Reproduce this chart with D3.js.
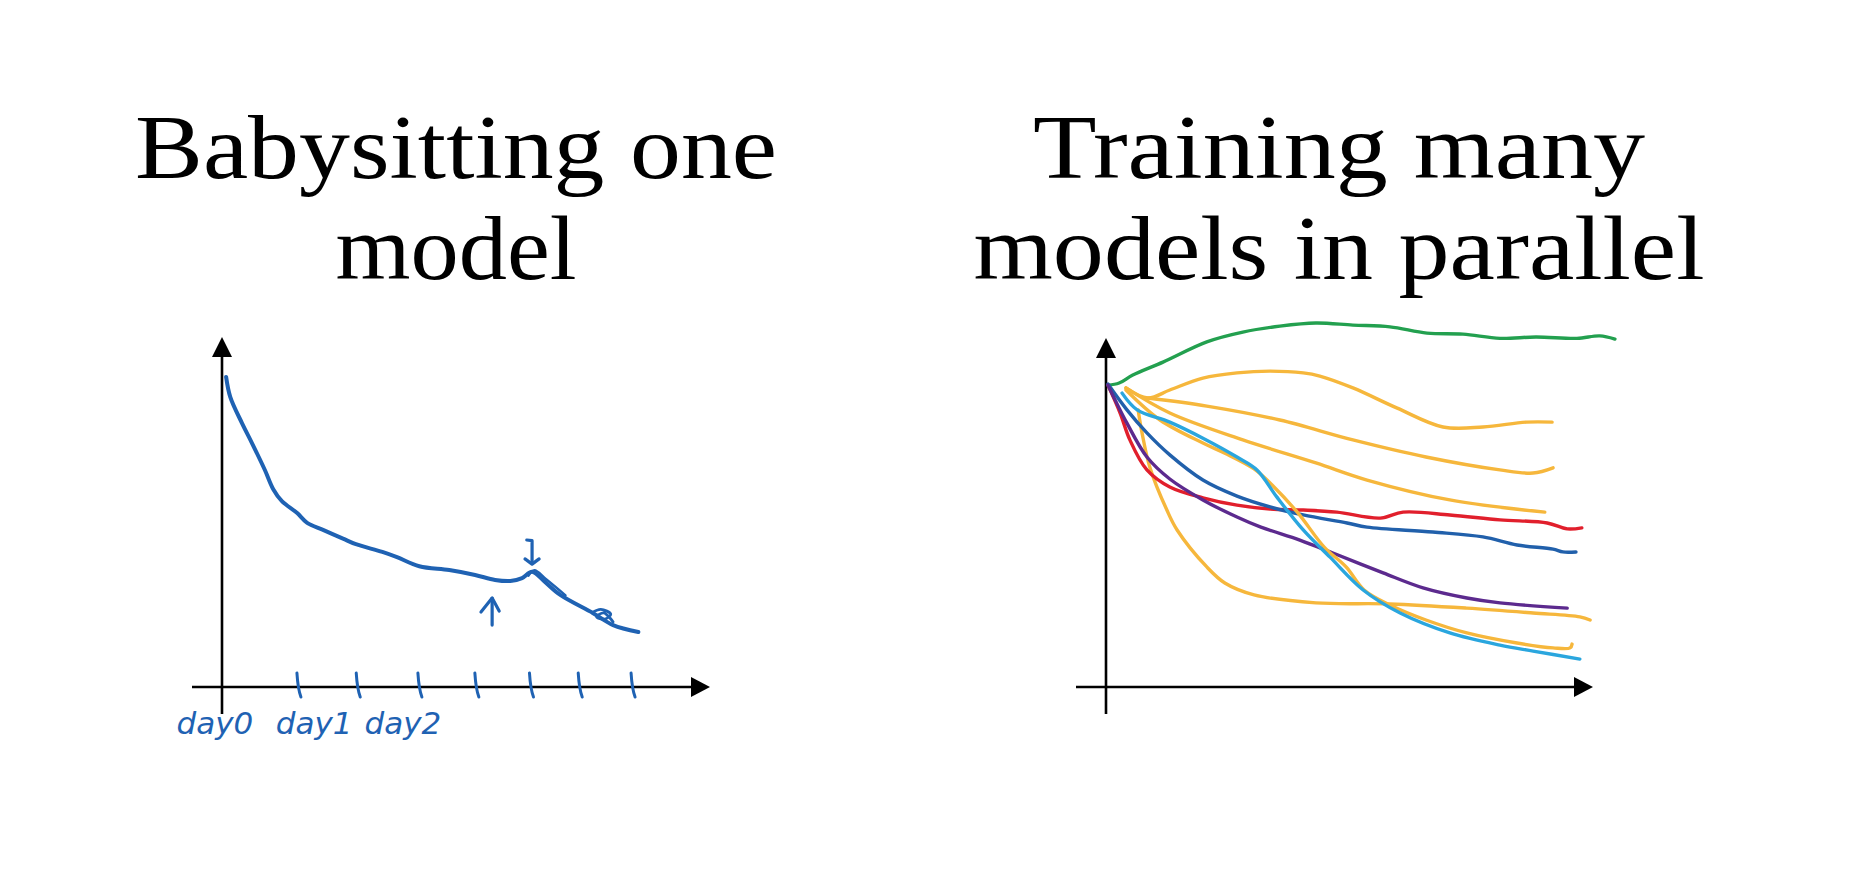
<!DOCTYPE html>
<html><head><meta charset="utf-8">
<script src="https://cdn.jsdelivr.net/npm/d3@7/dist/d3.min.js"></script>
<style>html,body{margin:0;padding:0;background:#fff;overflow:hidden}</style>
</head><body>
<svg id="chart" width="1876" height="889"></svg>
<script>
// ---------- titles ----------
const titleLeft = ["Babysitting one", "model"];
const titleRight = ["Training many", "models in parallel"];

// ---------- left panel: babysitting one model (x in "days", y = loss) ----------
const dayLabels = ["day0", "day1", "day2"];
const dayLabelX = [-0.12, 1.57, 3.08];
const leftTicks = [1.31, 2.32, 3.37, 4.34, 5.27, 6.10, 7.00];
const leftCurve = [[0.07,8.86],[0.14,8.29],[0.34,7.54],[0.51,6.97],[0.73,6.20],[0.87,5.66],[1.02,5.31],[1.28,4.97],[1.45,4.69],[1.72,4.49],[2.06,4.24],[2.28,4.08],[2.73,3.86],[2.98,3.71],[3.36,3.45],[3.87,3.34],[4.31,3.20],[4.65,3.06],[4.91,3.03],[5.11,3.11],[5.28,3.29],[5.50,3.00],[5.76,2.63],[6.32,2.11],[6.66,1.77],[7.09,1.57]];
const leftRetrace = [[5.22,3.18],[5.32,3.34],[5.52,3.08],[5.85,2.62]];
const leftLoop = [[6.30,2.12],[6.45,2.22],[6.62,2.08],[6.52,1.94],[6.38,2.00],[6.50,2.12],[6.66,1.86]];
const upArrow = [[4.60,1.77],[4.60,2.54]];
const upHead = [[4.41,2.14],[4.60,2.54],[4.72,2.17]];
const downArrow = [[5.19,4.20],[5.28,4.18],[5.28,3.54]];
const downHead = [[5.16,3.66],[5.28,3.51],[5.40,3.66]];

// ---------- right panel: many models in parallel ----------
const greenModel = [[0.04,8.65],[0.27,8.71],[0.55,8.94],[1.17,9.31],[2.07,9.89],[2.81,10.17],[3.57,10.34],[4.31,10.43],[5.07,10.37],[5.83,10.32],[6.59,10.14],[7.33,10.11],[8.09,9.99],[8.83,10.03],[9.67,9.99],[10.14,10.06],[10.45,9.97]];
const yellow1 = [[0.41,8.57],[0.86,8.28],[1.31,8.51],[1.99,8.85],[2.69,9.00],[3.37,9.05],[4.05,9.00],[4.39,8.91],[5.07,8.57],[5.98,7.99],[6.92,7.45],[7.74,7.45],[8.64,7.59],[9.16,7.59]];
const yellow2 = [[0.86,8.28],[2.07,8.05],[3.57,7.65],[5.07,7.08],[6.57,6.59],[8.09,6.22],[8.77,6.13],[9.18,6.28]];
const yellow3 = [[0.41,8.57],[1.31,7.85],[2.81,7.08],[4.31,6.42],[5.36,5.93],[7.06,5.36],[9.01,5.01]];
const yellow4 = [[0.66,7.94],[0.74,7.28],[0.90,6.30],[1.25,5.07],[1.46,4.50],[2.07,3.44],[2.44,2.98],[3.04,2.64],[4.31,2.41],[5.83,2.38],[7.41,2.26],[8.77,2.12],[9.73,2.01],[9.94,1.92]];
const yellow5 = [[0.41,8.51],[1.11,7.65],[1.99,6.99],[2.44,6.70],[3.04,6.25],[3.41,5.79],[3.94,4.99],[4.48,4.01],[4.93,3.44],[5.30,2.78],[5.83,2.35],[6.57,1.92],[7.41,1.55],[8.44,1.26],[9.18,1.12],[9.53,1.12],[9.57,1.23]];
const cyanModel = [[0.33,8.42],[0.64,7.94],[1.31,7.59],[1.99,7.13],[2.69,6.59],[3.10,6.22],[3.51,5.44],[4.05,4.50],[4.60,3.72],[5.28,2.78],[6.04,2.12],[7.06,1.55],[8.09,1.20],[8.77,1.03],[9.73,0.80]];
const blueModel = [[0.04,8.68],[0.43,7.94],[0.84,7.28],[1.31,6.65],[1.99,5.93],[2.69,5.47],[3.37,5.16],[4.05,4.93],[4.95,4.70],[5.36,4.58],[6.71,4.44],[7.74,4.30],[8.44,4.07],[9.18,3.95],[9.38,3.87],[9.65,3.87]];
const redModel = [[0.04,8.65],[0.29,7.85],[0.49,7.08],[0.84,6.22],[1.31,5.73],[1.99,5.42],[2.69,5.21],[3.37,5.10],[4.05,5.07],[4.74,5.01],[5.63,4.84],[6.10,5.01],[7.06,4.93],[8.09,4.79],[9.06,4.70],[9.47,4.53],[9.77,4.56]];
const purpleModel = [[0.04,8.65],[0.43,7.56],[0.84,6.59],[1.31,5.96],[1.99,5.36],[2.69,4.87],[3.18,4.58],[3.98,4.21],[4.66,3.84],[5.69,3.27],[6.51,2.84],[7.41,2.55],[8.09,2.41],[9.47,2.26]];

const rightSeries = [
  {data: yellow1, color: "#f6b73c"},
  {data: yellow2, color: "#f6b73c"},
  {data: yellow3, color: "#f6b73c"},
  {data: yellow4, color: "#f6b73c"},
  {data: greenModel, color: "#23a04f"},
  {data: redModel, color: "#e11f2c"},
  {data: blueModel, color: "#2160ab"},
  {data: purpleModel, color: "#5c2a8e"},
  {data: yellow5, color: "#f6b73c"},
  {data: cyanModel, color: "#2aa6de"}
];

// ---------- drawing ----------
const svg = d3.select("#chart");
const serif = "'Liberation Serif', 'DejaVu Serif', serif";

function title(lines, cx, widths) {
  lines.forEach((t, i) => {
    svg.append("text").attr("x", cx).attr("y", 178 + i * 101)
      .attr("text-anchor", "middle").attr("font-family", serif)
      .attr("font-size", 90).attr("fill", "#000")
      .attr("textLength", widths[i]).attr("lengthAdjust", "spacingAndGlyphs")
      .text(t);
  });
}
title(titleLeft, 456, [642, 241]);
title(titleRight, 1339, [612, 731]);

function axes(g, x, y) {
  const x0 = x(0), y0 = y(0);
  const yTop = y.range()[1], xEnd = x.range()[1];
  g.append("line").attr("x1", x0 - 30).attr("x2", xEnd - 8).attr("y1", y0).attr("y2", y0)
    .attr("stroke", "#000").attr("stroke-width", 2.6);
  g.append("line").attr("x1", x0).attr("x2", x0).attr("y1", y0 + 27).attr("y2", yTop + 8)
    .attr("stroke", "#000").attr("stroke-width", 2.6);
  g.append("path").attr("d", `M${x0},${yTop} L${x0 - 10},${yTop + 20} L${x0 + 10},${yTop + 20} Z`).attr("fill", "#000");
  g.append("path").attr("d", `M${xEnd},${y0} L${xEnd - 19},${y0 - 10} L${xEnd - 19},${y0 + 10} Z`).attr("fill", "#000");
}

// left panel
const xL = d3.scaleLinear().domain([0, 8.31]).range([222, 710]);
const yL = d3.scaleLinear().domain([0, 10]).range([687, 337]);
const gL = svg.append("g");
axes(gL, xL, yL);
const penBlue = "#1f62b3";
const lineL = d3.line().x(d => xL(d[0])).y(d => yL(d[1])).curve(d3.curveCatmullRom.alpha(0.5));
const lineLStraight = d3.line().x(d => xL(d[0])).y(d => yL(d[1]));
gL.append("path").attr("d", lineL(leftCurve)).attr("fill", "none")
  .attr("stroke", penBlue).attr("stroke-width", 4).attr("stroke-linecap", "round").attr("stroke-linejoin", "round");
gL.append("path").attr("d", lineL(leftRetrace)).attr("fill", "none")
  .attr("stroke", penBlue).attr("stroke-width", 2.4).attr("stroke-linecap", "round");
gL.append("path").attr("d", lineL(leftLoop)).attr("fill", "none")
  .attr("stroke", penBlue).attr("stroke-width", 2.8).attr("stroke-linecap", "round");
[upArrow, upHead, downArrow, downHead].forEach(a => {
  gL.append("path").attr("d", lineLStraight(a)).attr("fill", "none")
    .attr("stroke", penBlue).attr("stroke-width", 3.2).attr("stroke-linecap", "round").attr("stroke-linejoin", "round");
});
gL.selectAll(".tick").data(leftTicks).join("path").attr("class", "tick")
  .attr("d", d => `M${xL(d) - 2},${yL(0) - 14} Q${xL(d) - 1},${yL(0) + 2} ${xL(d) + 2},${yL(0) + 10}`)
  .attr("fill", "none").attr("stroke", penBlue).attr("stroke-width", 3).attr("stroke-linecap", "round");
gL.selectAll(".day").data(dayLabels).join("text").attr("class", "day")
  .attr("x", (d, i) => xL(dayLabelX[i])).attr("y", yL(0) + 47)
  .attr("text-anchor", "middle").attr("font-family", "'DejaVu Sans', sans-serif")
  .attr("font-style", "italic").attr("font-size", 31).attr("fill", penBlue)
  .text(d => d);

// right panel
const xR = d3.scaleLinear().domain([0, 10]).range([1106, 1593]);
const yR = d3.scaleLinear().domain([0, 10]).range([687, 338]);
const gR = svg.append("g");
axes(gR, xR, yR);
const lineR = d3.line().x(d => xR(d[0])).y(d => yR(d[1])).curve(d3.curveCatmullRom.alpha(0.5));
gR.selectAll(".model").data(rightSeries).join("path").attr("class", "model")
  .attr("d", d => lineR(d.data)).attr("fill", "none")
  .attr("stroke", d => d.color).attr("stroke-width", 3.4)
  .attr("stroke-linecap", "round").attr("stroke-linejoin", "round");
</script>
</body></html>
